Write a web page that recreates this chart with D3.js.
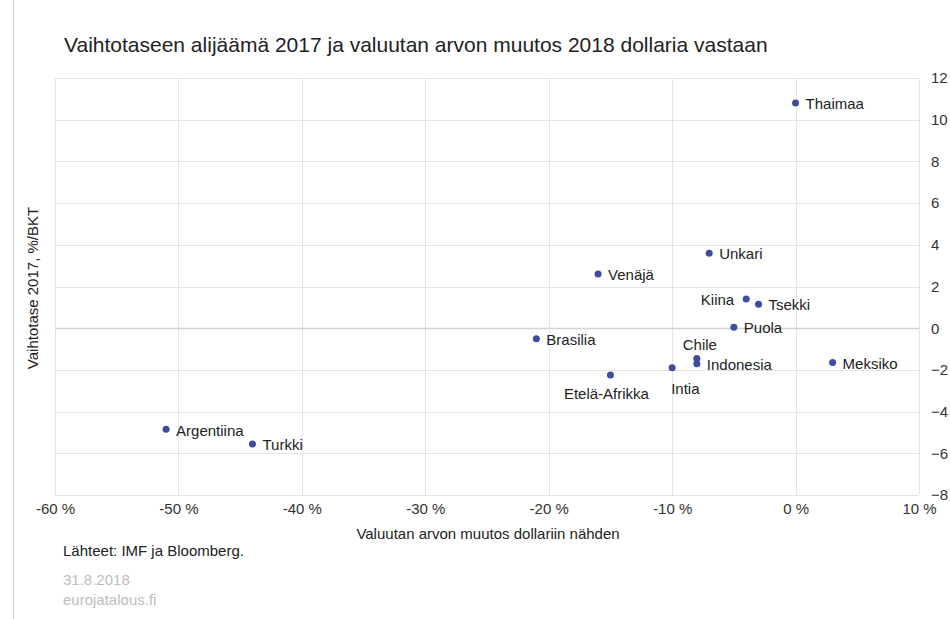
<!DOCTYPE html>
<html>
<head>
<meta charset="utf-8">
<script src="https://cdn.jsdelivr.net/npm/d3@7"></script>
<style>
  body { margin: 0; background: #fff; }
  svg text { font-family: "Liberation Sans", Arial, sans-serif; }
</style>
</head>
<body>
<div id="chart"></div>
<script>

// countries, currency change vs USD 2018 (%), current account 2017 (% of GDP)
var countries      = ["Thaimaa", "Unkari", "Venäjä", "Kiina", "Tsekki", "Puola", "Brasilia",
                      "Chile", "Indonesia", "Meksiko", "Intia", "Etelä-Afrikka", "Argentiina", "Turkki"];
var fxChange       = [0, -7, -16, -4, -3, -5, -21, -8, -8, 3, -10, -15, -51, -44];
var currentAccount = [10.8, 3.6, 2.6, 1.4, 1.15, 0.05, -0.5, -1.45, -1.7, -1.65, -1.9, -2.25, -4.85, -5.55];

var xTicks = [-60, -50, -40, -30, -20, -10, 0, 10];
var yTicks = [-8, -6, -4, -2, 0, 2, 4, 6, 8, 10, 12];

var title  = "Vaihtotaseen alijäämä 2017 ja valuutan arvon muutos 2018 dollaria vastaan";
var xTitle = "Valuutan arvon muutos dollariin nähden";
var yTitle = "Vaihtotase 2017, %/BKT";
var source = "Lähteet: IMF ja Bloomberg.";
var footer = ["31.8.2018", "eurojatalous.fi"];

var width = 950, height = 619;
var plot = { left: 55, right: 919, top: 78, bottom: 495 };

var svg = d3.select("#chart").append("svg").attr("width", width).attr("height", height);

// frame line on the left
svg.append("line")
   .attr("x1", 13.5).attr("x2", 13.5).attr("y1", 0).attr("y2", height)
   .style("stroke", "#d6d6d6");

var x = d3.scaleLinear().domain([-60, 10]).range([plot.left, plot.right]);
var y = d3.scaleLinear().domain([-8, 12]).range([plot.bottom, plot.top]);

// grid
svg.append("g").selectAll("line").data(xTicks).enter().append("line")
   .attr("x1", function(d) { return Math.round(x(d)) + 0.5; })
   .attr("x2", function(d) { return Math.round(x(d)) + 0.5; })
   .attr("y1", plot.top).attr("y2", plot.bottom)
   .style("stroke", "#e4e4e4");

svg.append("g").selectAll("line").data(yTicks).enter().append("line")
   .attr("x1", plot.left).attr("x2", plot.right)
   .attr("y1", function(d) { return Math.round(y(d)) + 0.5; })
   .attr("y2", function(d) { return Math.round(y(d)) + 0.5; })
   .style("stroke", function(d) { return d === 0 ? "#d4d4d4" : "#e4e4e4"; })
   .style("stroke-width", function(d) { return d === 0 ? 1.5 : 1; });

// axes (labels only, no domain / ticks)
var xAxis = d3.axisBottom(x).tickValues(xTicks).tickSize(0).tickPadding(0)
              .tickFormat(function(d) { return d + " %"; });
var gx = svg.append("g").attr("transform", "translate(0," + (plot.bottom + 14) + ")").call(xAxis);

var yAxis = d3.axisRight(y).tickValues(yTicks).tickSize(0).tickPadding(0);
var gy = svg.append("g").attr("transform", "translate(" + (plot.right + 12) + ",0)").call(yAxis);

[gx, gy].forEach(function(g) {
  g.select(".domain").remove();
  g.selectAll("text")
   .style("font-family", "'Liberation Sans', Arial, sans-serif")
   .style("font-size", "15px")
   .style("fill", "#333");
});
gx.selectAll("text").attr("dy", "0.32em");

// points
var pts = countries.map(function(c, i) { return { name: c, fx: fxChange[i], ca: currentAccount[i] }; });

svg.append("g").selectAll("circle").data(pts).enter().append("circle")
   .attr("cx", function(d) { return x(d.fx); })
   .attr("cy", function(d) { return y(d.ca); })
   .attr("r", 3.5)
   .style("fill", "#3f4b9f");

// label placement
var side = { "Kiina": "left", "Chile": "above", "Intia": "below", "Etelä-Afrikka": "below" };

svg.append("g").selectAll("text").data(pts).enter().append("text")
   .attr("x", function(d) {
      var s = side[d.name], cx = x(d.fx);
      if (s === "left") return cx - 12;
      if (s === "above") return cx + 3;
      if (s === "below") return d.name === "Intia" ? cx - 1 : cx - 4;
      return cx + 10;
   })
   .attr("y", function(d) {
      var s = side[d.name], cy = y(d.ca);
      if (s === "above") return cy - 14;
      if (s === "below") return d.name === "Intia" ? cy + 21 : cy + 19;
      return cy + 1;
   })
   .attr("dy", "0.35em")
   .attr("text-anchor", function(d) {
      var s = side[d.name];
      if (s === "left") return "end";
      if (s === "above") return "middle";
      if (s === "below") return d.name === "Intia" ? "start" : "middle";
      return "start";
   })
   .style("font-size", "15px")
   .style("fill", "#222")
   .text(function(d) { return d.name; });

// titles
svg.append("text")
   .attr("x", 64).attr("y", 52)
   .style("font-size", "21px").style("fill", "#222")
   .text(title);

svg.append("text")
   .attr("x", (plot.left + plot.right) / 2 + 1).attr("y", 534).attr("dy", "0.35em")
   .attr("text-anchor", "middle")
   .style("font-size", "15px").style("fill", "#222")
   .text(xTitle);

svg.append("text")
   .attr("transform", "translate(33,288) rotate(-90)")
   .attr("text-anchor", "middle").attr("dy", "0.35em")
   .style("font-size", "15px").style("fill", "#222")
   .text(yTitle);

svg.append("text")
   .attr("x", 63).attr("y", 551).attr("dy", "0.35em")
   .style("font-size", "15px").style("fill", "#222")
   .text(source);

svg.selectAll(".foot").data(footer).enter().append("text")
   .attr("class", "foot")
   .attr("x", 63).attr("y", function(d, i) { return 580 + i * 20; }).attr("dy", "0.35em")
   .style("font-size", "15px").style("fill", "#bdbdbd")
   .text(function(d) { return d; });

</script>
</body>
</html>
